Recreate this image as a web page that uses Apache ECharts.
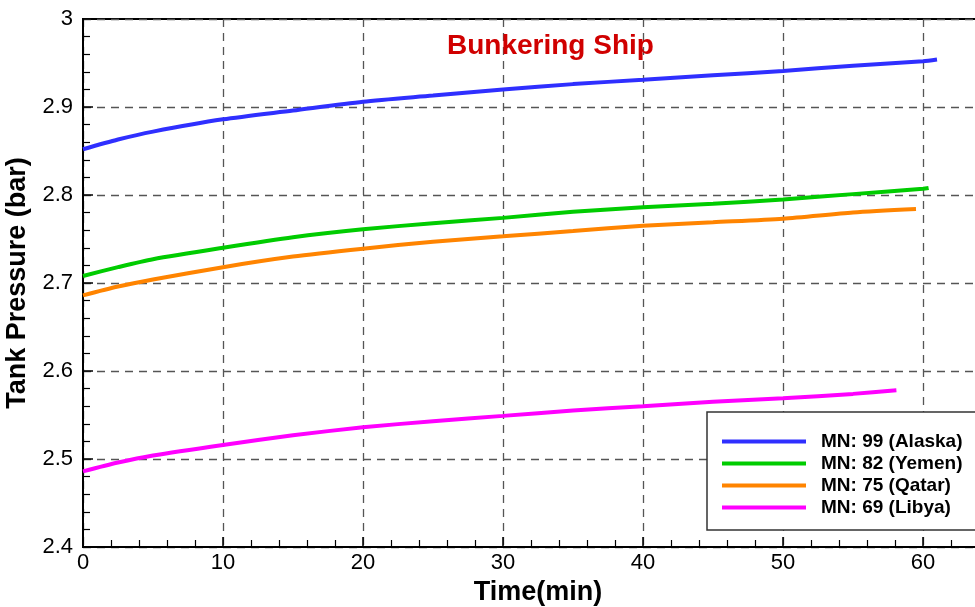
<!DOCTYPE html>
<html>
<head>
<meta charset="utf-8">
<script src="https://cdn.jsdelivr.net/npm/echarts@6/dist/echarts.min.js"></script>
<style>html,body{margin:0;padding:0;background:#fff}#c{width:975px;height:607px}</style>
</head>
<body>
<div id="c"></div>
<script>
var seriesNames = ['MN: 99 (Alaska)', 'MN: 82 (Yemen)', 'MN: 75 (Qatar)', 'MN: 69 (Libya)'];
var alaskaT = [0, 2.5, 5, 10, 15, 20, 25, 30, 35, 40, 45, 50, 55, 60, 61];
var alaskaP = [2.852, 2.863, 2.872, 2.886, 2.896, 2.906, 2.913, 2.920, 2.926, 2.931, 2.936, 2.941, 2.947, 2.952, 2.954];
var yemenT = [0, 2.5, 5, 10, 15, 20, 25, 30, 35, 40, 45, 50, 55, 60, 60.4];
var yemenP = [2.708, 2.718, 2.727, 2.740, 2.752, 2.761, 2.768, 2.774, 2.781, 2.786, 2.790, 2.795, 2.801, 2.807, 2.808];
var qatarT = [0, 2.5, 5, 10, 15, 20, 25, 30, 35, 40, 45, 50, 55, 59.5];
var qatarP = [2.686, 2.696, 2.704, 2.718, 2.730, 2.739, 2.747, 2.753, 2.759, 2.765, 2.769, 2.773, 2.780, 2.784];
var libyaT = [0, 2.5, 5, 10, 15, 20, 25, 30, 35, 40, 45, 50, 55, 58.1];
var libyaP = [2.486, 2.496, 2.504, 2.516, 2.527, 2.536, 2.543, 2.549, 2.555, 2.560, 2.565, 2.569, 2.574, 2.578];
var colors = ['#2f2fff', '#00cc00', '#ff8400', '#ff00ff'];

function pairs(t, p) { return t.map(function (v, i) { return [v, p[i]]; }); }
var dataSets = [pairs(alaskaT, alaskaP), pairs(yemenT, yemenP), pairs(qatarT, qatarP), pairs(libyaT, libyaP)];

var FONT = 'Liberation Sans, Arial, sans-serif';
var chart = echarts.init(document.getElementById('c'));
chart.setOption({
  animation: false,
  backgroundColor: '#fff',
  title: {
    text: 'Bunkering Ship',
    left: 442, top: 27,
    textStyle: { color: '#d00000', fontSize: 28, fontWeight: 'bold', fontFamily: FONT }
  },
  grid: {
    left: 83, top: 19, height: 528, width: 980,
    outerBoundsMode: 'none', containLabel: false,
    show: true, borderColor: '#000', borderWidth: 2, backgroundColor: 'transparent'
  },
  legend: {
    orient: 'vertical',
    left: 707, top: 412,
    padding: [20, 40, 13, 15],
    itemWidth: 84, itemHeight: 4, itemGap: 3,
    icon: 'rect',
    borderColor: '#333', borderWidth: 1.5,
    backgroundColor: '#fff',
    textStyle: { fontSize: 19, fontWeight: 'bold', fontFamily: FONT, color: '#000', lineHeight: 16, padding: [0, 0, 0, 10] },
    data: seriesNames
  },
  xAxis: {
    type: 'value', min: 0, max: 70, interval: 10,
    name: 'Time(min)', nameLocation: 'middle', nameGap: 24,
    nameTextStyle: { fontSize: 27, fontWeight: 'bold', fontFamily: FONT, color: '#000', padding: [0, 70, 0, 0] },
    axisLine: { show: true, lineStyle: { color: '#000', width: 2 } },
    axisTick: { show: true, inside: true, length: 10, lineStyle: { color: '#000', width: 1.5 } },
    minorTick: { show: true, splitNumber: 5, length: 7, lineStyle: { color: '#000', width: 1.2 } },
    axisLabel: { fontSize: 22, fontFamily: FONT, color: '#000', margin: 5 },
    splitLine: { show: true, lineStyle: { color: '#555', width: 1.3, type: [8, 6] } }
  },
  yAxis: {
    type: 'value', min: 2.4, max: 3, interval: 0.1,
    name: 'Tank Pressure (bar)', nameLocation: 'middle', nameGap: 36,
    nameTextStyle: { fontSize: 27, fontWeight: 'bold', fontFamily: FONT, color: '#000' },
    axisLine: { show: true, lineStyle: { color: '#000', width: 2 } },
    axisTick: { show: true, inside: true, length: 10, lineStyle: { color: '#000', width: 1.5 } },
    minorTick: { show: true, splitNumber: 5, length: 7, lineStyle: { color: '#000', width: 1.2 } },
    axisLabel: { fontSize: 22, fontFamily: FONT, color: '#000', margin: 10 },
    splitLine: { show: true, lineStyle: { color: '#555', width: 1.3, type: [8, 6] } }
  },
  series: seriesNames.map(function (n, i) {
    return {
      name: n, type: 'line', data: dataSets[i], smooth: 0.25, showSymbol: false, symbol: 'none',
      color: colors[i], lineStyle: { color: colors[i], width: 4 }, z: 3
    };
  })
});
</script>
</body>
</html>
